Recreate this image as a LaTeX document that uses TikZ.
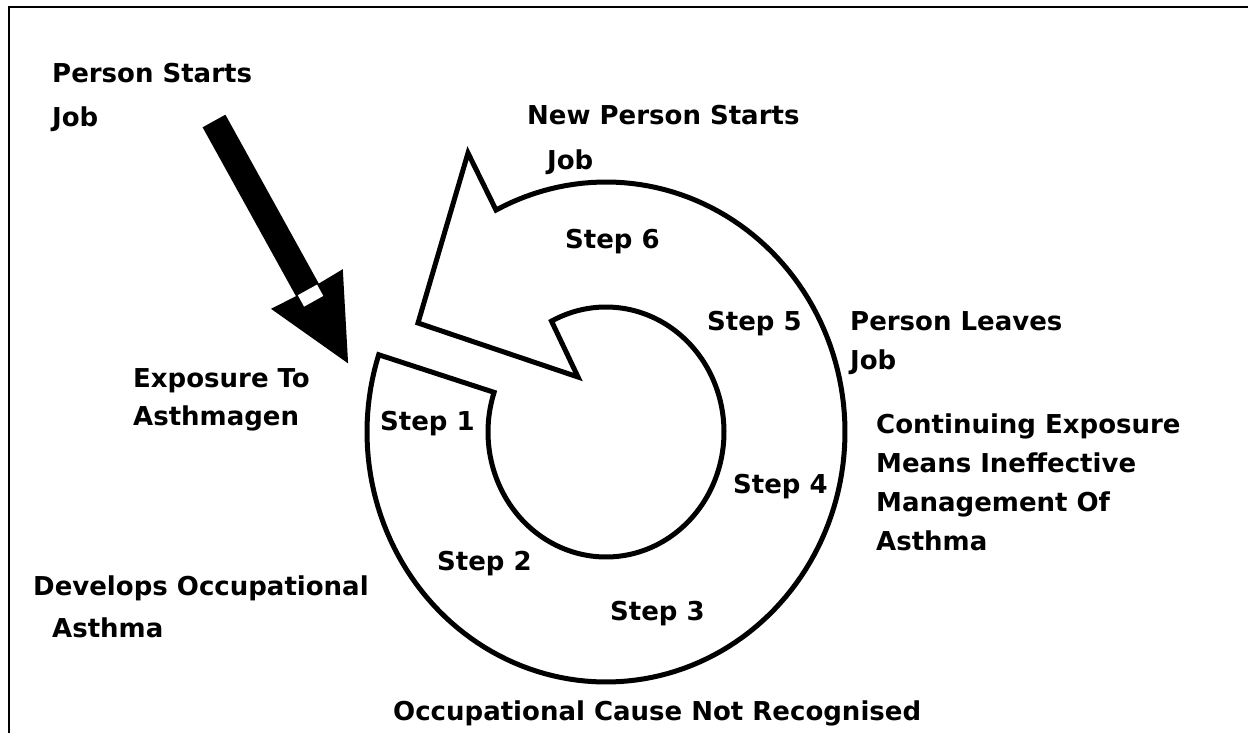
\documentclass[tikz,border=0pt]{standalone}
\usepackage{fontspec}
\newfontfamily\labfont{DejaVu Sans}
\begin{document}
\begin{tikzpicture}[x=1pt,y=-1pt,
  lbl/.style={anchor=base west, inner sep=0pt, font=\labfont\bfseries\fontsize{26}{30}\selectfont},
  ringline/.style={line width=5pt, line join=miter, fill=white},
  frameline/.style={line width=2.5pt}]
\useasboundingbox (0,0) rectangle (1248,733);
% frame
\draw[frameline] (9,733) -- (9,7) -- (1248,7);
% ring arrow
\draw[ringline] plot[domain=198:-117.4, samples=160] ({606+239*cos(\x)},{432+250*sin(\x)})
  -- (468,153) -- (418,323) -- (578,377)
  -- plot[domain=-117.5:198.5, samples=160] ({606+118*cos(\x)},{432+125*sin(\x)}) -- cycle;
% black arrow
\fill[black] (202.6,127.3) -- (225.4,114.7) -- (318.8,283.6) -- (342.8,269.2) -- (348.1,363.4)
  -- (271.0,308.8) -- (296.0,296.2) -- cycle;
\fill[white] (297.8,295.2) -- (317.0,284.6) -- (323.3,295.9) -- (304.1,306.6) -- cycle;
% labels
\node[lbl] (ps1) at (52,83) {Person Starts};
\node[lbl] (ps2) at (52,127) {Job};
\node[lbl] (np1) at (527,125) {New Person Starts};
\node[lbl] (np2) at (547,169) {Job};
\node[lbl] (s6) at (565,248) {Step 6};
\node[lbl] (s5) at (707,330) {Step 5};
\node[lbl] (pl1) at (850,330) {Person Leaves};
\node[lbl] (pl2) at (850,369) {Job};
\node[lbl] (ce1) at (876,433) {Continuing Exposure};
\node[lbl] (ce2) at (876,472) {Means Ineffective};
\node[lbl] (ce3) at (876,511) {Management Of};
\node[lbl] (ce4) at (876,550) {Asthma};
\node[lbl] (s4) at (733,493) {Step 4};
\node[lbl] (s1) at (380,430) {Step 1};
\node[lbl] (ex1) at (133,387) {Exposure To};
\node[lbl] (ex2) at (133,425) {Asthmagen};
\node[lbl] (s2) at (437,570) {Step 2};
\node[lbl] (s3) at (610,620) {Step 3};
\node[lbl] (do1) at (33,595) {Develops Occupational};
\node[lbl] (do2) at (52,637) {Asthma};
\node[lbl] (oc) at (393,720) {Occupational Cause Not Recognised};
\end{tikzpicture}
\end{document}
